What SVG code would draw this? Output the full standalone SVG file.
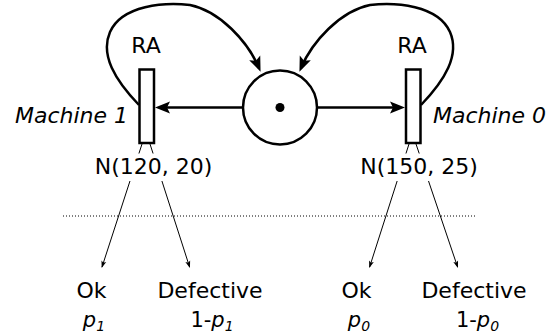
<svg xmlns="http://www.w3.org/2000/svg" width="556" height="336" viewBox="0 0 556 336">
  <style>
    text { font-family: "DejaVu Sans", "Liberation Sans", sans-serif; fill: #000; }
    .lbl { font-size: 22px; }
    .it { font-style: italic; }
    .prob { font-size: 21px; }
    .sub { font-size: 14px; font-style: italic; }
    .place { fill: #fff; stroke: #000; stroke-width: 2.5; }
    .trans { fill: #fff; stroke: #000; stroke-width: 2.5; }
    .arc { fill: none; stroke: #000; stroke-width: 2.5; marker-end: url(#head); }
    .branch { fill: none; stroke: #000; stroke-width: 1; marker-end: url(#tip); }
    .sep { fill: none; stroke: #000; stroke-width: 1; stroke-dasharray: 1 2; }
    .mask { fill: #fff; stroke: none; }
  </style>
  <defs>
    <marker id="head" markerUnits="userSpaceOnUse" viewBox="-20 -8 24 16" markerWidth="24" markerHeight="16" refX="0" refY="0" orient="auto">
      <path d="M4,0 L-11,-6 L-8,0 L-11,6 Z" fill="#000"/>
    </marker>
    <marker id="tip" markerUnits="userSpaceOnUse" viewBox="-10 -4 12 8" markerWidth="12" markerHeight="8" refX="0" refY="0" orient="auto">
      <path d="M1,0 L-6,-2.5 L-4.5,0 L-6,2.5 Z" fill="#000"/>
    </marker>
  </defs>

  <!-- separator -->
  <path class="sep" d="M63,216 H477"/>

  <!-- connectors -->
  <g id="connectors">
    <path class="arc" d="M139,105 C115,80 100,55 110,32 C122,5 165,2 190,5 C220,11 248,42 259,68"/>
    <path class="arc" d="M421,105 C445,80 460,55 450,32 C438,5 395,2 370,5 C340,11 312,42 301,68"/>
    <path class="arc" d="M243,107.5 L159,107.5"/>
    <path class="arc" d="M317,107.5 L401,107.5"/>
    <path class="branch" d="M142,144 L102,267"/>
    <path class="branch" d="M150,144 L189.6,267"/>
    <path class="branch" d="M409,144 L369.6,267"/>
    <path class="branch" d="M416,144 L457.6,267"/>
  </g>

  <!-- place with one token -->
  <g id="place">
    <circle class="place" cx="280" cy="107.5" r="37"/>
    <circle cx="280" cy="107.5" r="4.5" fill="#000"/>
  </g>

  <!-- machine 1 -->
  <g id="machine1">
    <rect class="trans" x="139.5" y="69.5" width="14.5" height="73.5"/>
    <text class="lbl" x="146" y="53" text-anchor="middle">RA</text>
    <text class="lbl it" x="15" y="122.5">Machine 1</text>
    <rect class="mask" x="88" y="153.5" width="132" height="27.5"/>
    <text class="lbl" x="153.5" y="174" text-anchor="middle">N(120, 20)</text>
  </g>

  <!-- machine 0 -->
  <g id="machine0">
    <rect class="trans" x="406" y="69.5" width="14.5" height="73.5"/>
    <text class="lbl" x="412" y="53" text-anchor="middle">RA</text>
    <text class="lbl it" x="433" y="122.5">Machine 0</text>
    <rect class="mask" x="354" y="153.5" width="132" height="27.5"/>
    <text class="lbl" x="419" y="174" text-anchor="middle">N(150, 25)</text>
  </g>

  <!-- outcomes -->
  <g id="ok1">
    <text class="lbl" x="91.5" y="298" text-anchor="middle">Ok</text>
    <text class="prob" x="94" y="327" text-anchor="middle"><tspan class="it">p</tspan><tspan class="sub" dy="4">1</tspan></text>
  </g>
  <g id="def1">
    <text class="lbl" x="210" y="298" text-anchor="middle">Defective</text>
    <text class="prob" x="212" y="327" text-anchor="middle">1-<tspan class="it">p</tspan><tspan class="sub" dy="4">1</tspan></text>
  </g>
  <g id="ok0">
    <text class="lbl" x="356.5" y="298" text-anchor="middle">Ok</text>
    <text class="prob" x="359" y="327" text-anchor="middle"><tspan class="it">p</tspan><tspan class="sub" dy="4">0</tspan></text>
  </g>
  <g id="def0">
    <text class="lbl" x="474" y="298" text-anchor="middle">Defective</text>
    <text class="prob" x="477.5" y="327" text-anchor="middle">1-<tspan class="it">p</tspan><tspan class="sub" dy="4">0</tspan></text>
  </g>
</svg>
